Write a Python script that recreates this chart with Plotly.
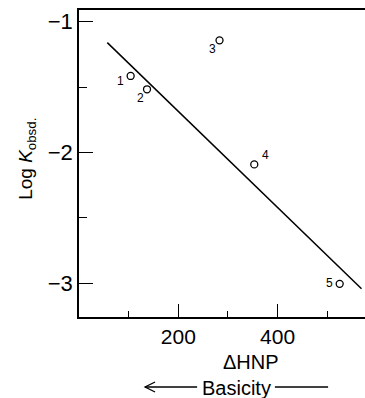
import plotly.graph_objects as go

# Data
compound_labels = ["1", "2", "3", "4", "5"]
delta_hnp = [104, 137, 283, 353, 525]
log_k_obsd = [-1.415, -1.517, -1.142, -2.092, -3.006]

fit_x = [57, 569]
fit_y = [-1.16, -3.044]

x_tickvals = [200, 400]
x_minor_tickvals = [100, 300, 500]
y_tickvals = [-1, -2, -3]
y_minor_tickvals = [-1.5, -2.5]

# label offsets (pixels) for point numbers
label_shift = [(-10, -5), (-7, -9), (-7, -9), (11, 9), (-10, 1)]

FONT = "Liberation Sans"

fig = go.Figure()
fig.add_trace(go.Scatter(x=fit_x, y=fit_y, mode="lines",
                         line=dict(color="black", width=1.5), hoverinfo="skip"))
fig.add_trace(go.Scatter(x=delta_hnp, y=log_k_obsd, mode="markers",
                         marker=dict(symbol="circle-open", size=7,
                                     color="black", line=dict(width=1.3))))

for lab, xv, yv, (dx, dy) in zip(compound_labels, delta_hnp, log_k_obsd, label_shift):
    fig.add_annotation(x=xv, y=yv, text=lab, showarrow=False,
                       xshift=dx, yshift=dy,
                       font=dict(family=FONT, size=12, color="black"))

fig.update_layout(
    width=365, height=398,
    margin=dict(l=79, r=0, t=10, b=81),
    paper_bgcolor="white", plot_bgcolor="white",
    showlegend=False,
    font=dict(family=FONT, color="black"),
    xaxis=dict(range=[0, 576], showline=True, mirror=True, linecolor="black",
               linewidth=1.6, showgrid=False, zeroline=False,
               tickmode="array", tickvals=x_tickvals,
               ticks="inside", ticklen=13, tickwidth=1, tickcolor="black",
               tickfont=dict(size=21, family=FONT),
               minor=dict(tickmode="array", tickvals=x_minor_tickvals,
                          ticks="inside", ticklen=6, tickwidth=1, tickcolor="black")),
    yaxis=dict(range=[-3.26, -0.91], showline=True, mirror=False, linecolor="black",
               linewidth=1.6, showgrid=False, zeroline=False,
               tickmode="array", tickvals=y_tickvals,
               ticks="inside", ticklen=14, tickwidth=1, tickcolor="black",
               tickfont=dict(size=22, family=FONT),
               minor=dict(tickmode="array", tickvals=y_minor_tickvals,
                          ticks="inside", ticklen=8, tickwidth=1, tickcolor="black")),
)

# axis titles as annotations
fig.add_annotation(xref="paper", yref="paper", x=-0.182, y=0.515,
                   text="Log <i>K</i><sub>obsd.</sub>", textangle=-90,
                   showarrow=False, xanchor="center", yanchor="middle",
                   font=dict(family=FONT, size=19, color="black"))
fig.add_annotation(xref="paper", yref="paper", x=0.6, y=-0.148,
                   text="ΔHNP", showarrow=False, xanchor="center", yanchor="middle",
                   font=dict(family=FONT, size=20, color="black"))
fig.add_annotation(xref="paper", yref="paper", x=0.678, y=-0.23,
                   text="Basicity", showarrow=False, xanchor="right", yanchor="middle",
                   font=dict(family=FONT, size=20, color="black"))
# arrow to the left of "Basicity"
fig.add_shape(type="line", xref="paper", yref="paper", x0=0.231, x1=0.413,
              y0=-0.228, y1=-0.228, line=dict(color="black", width=1.3))
fig.add_shape(type="path", xref="paper", yref="paper",
              path="M 0.266 -0.2117 L 0.231 -0.228 L 0.266 -0.2443",
              line=dict(color="black", width=1.3))
# dash to the right of "Basicity"
fig.add_shape(type="line", xref="paper", yref="paper", x0=0.685, x1=0.871,
              y0=-0.228, y1=-0.228, line=dict(color="black", width=1.3))

fig.write_html("out.html", config={"displayModeBar": False},
               post_script="document.body.style.margin='0';document.body.style.padding='0';")
